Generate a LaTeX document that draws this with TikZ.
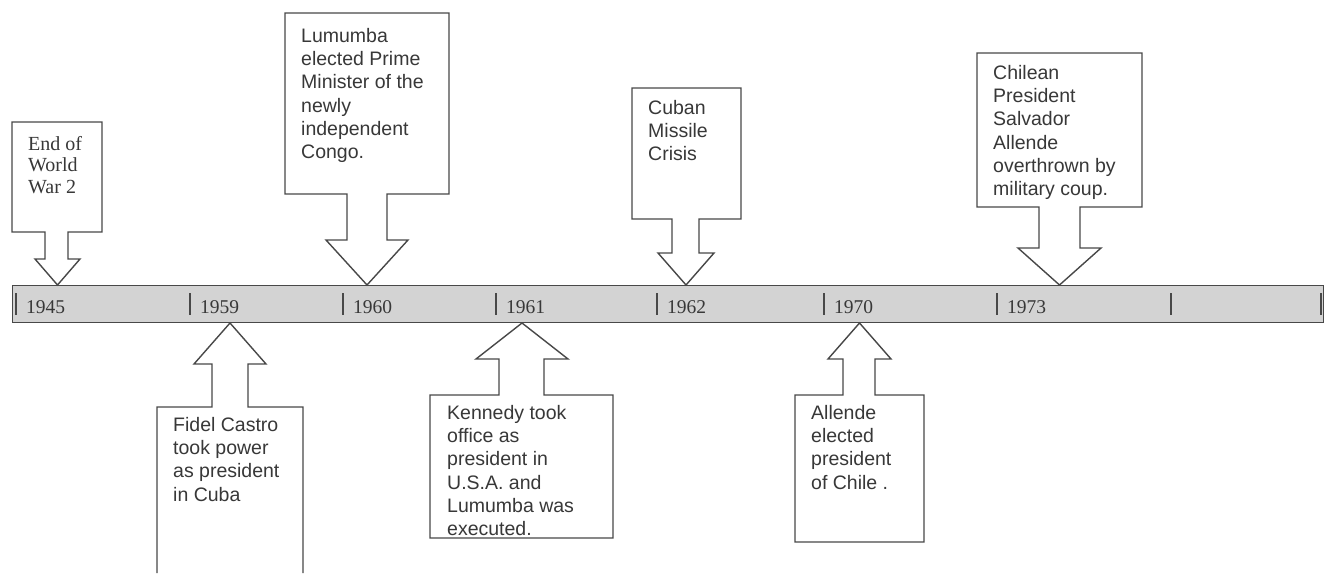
\documentclass[tikz,border=0pt]{standalone}
\usepackage{fontspec}
\setmainfont{Liberation Serif}
\setsansfont{Liberation Sans}
\definecolor{linegray}{HTML}{484848}
\definecolor{bargray}{HTML}{D3D3D3}
\definecolor{textgray}{HTML}{383838}
\begin{document}
\begin{tikzpicture}[x=1pt, y=-1pt,
	every node/.style = {inner sep=0pt, anchor=north west, align=left, text=textgray},
	callout/.style = {draw=linegray, line width=1.4pt, fill=white, line join=miter}]
	\tikzstyle{event}=[font=\sffamily\fontsize{19.5}{23.3}\selectfont]
	\tikzstyle{oldevent}=[font=\fontsize{20}{21.7}\selectfont]
	\tikzstyle{year}=[anchor=base west, font=\fontsize{19.5}{22}\selectfont]
	\useasboundingbox (0,0) rectangle (1324,575);
	% the time bar
	\node (bar) [draw=linegray, line width=1.4pt, fill=bargray, minimum width=1311pt, minimum height=37pt] at (12,285) {};
	\foreach \x in {16,190,343,496,657,824,997,1171,1321}
		\draw [linegray, line width=1.2pt] (\x,293) -- (\x,315);
	\foreach \x/\yr in {16/1945,190/1959,343/1960,496/1961,657/1962,824/1970,997/1973}
		\node [year] (y\yr) at (\x+10,313) {\yr};
	% callouts above the bar
	\draw [callout] (12,122) -- (102,122) -- (102,232) -- (68,232) -- (68,259) -- (80,259) -- (57.5,285) -- (35,259) -- (45,259) -- (45,232) -- (12,232) -- cycle;
	\draw [callout] (285,13) -- (449,13) -- (449,194) -- (387,194) -- (387,240) -- (408,240) -- (367,285) -- (326,240) -- (347,240) -- (347,194) -- (285,194) -- cycle;
	\draw [callout] (632,88) -- (741,88) -- (741,219) -- (699,219) -- (699,253) -- (714,253) -- (686,285) -- (658,253) -- (672,253) -- (672,219) -- (632,219) -- cycle;
	\draw [callout] (977,53) -- (1142,53) -- (1142,207) -- (1080,207) -- (1080,248) -- (1101,248) -- (1059.5,285) -- (1018,248) -- (1039,248) -- (1039,207) -- (977,207) -- cycle;
	% callouts below the bar
	\draw [callout] (157,573) -- (157,407) -- (212,407) -- (212,364) -- (194,364) -- (230,323) -- (266,364) -- (248,364) -- (248,407) -- (303,407) -- (303,573);
	\draw [callout] (430,538) -- (430,395) -- (499,395) -- (499,359) -- (476,359) -- (522,323) -- (568,359) -- (544,359) -- (544,395) -- (613,395) -- (613,538) -- cycle;
	\draw [callout] (795,542) -- (795,395) -- (843,395) -- (843,359) -- (828,359) -- (859.5,323) -- (891,359) -- (875,359) -- (875,395) -- (924,395) -- (924,542) -- cycle;
	% texts
	\node [oldevent] (e1945) at (28,136) {End of\\World\\War 2};
	\node [event] (e1959) at (173,417) {Fidel Castro\\took power\\as president\\in Cuba};
	\node [event] (e1960) at (301,28) {Lumumba\\elected Prime\\Minister of the\\newly\\independent\\Congo.};
	\node [event] (e1961) at (447,405) {Kennedy took\\office as\\president in\\U.S.A. and\\Lumumba was\\executed.};
	\node [event] (e1962) at (648,100) {Cuban\\Missile\\Crisis};
	\node [event] (e1970) at (811,405) {Allende\\elected\\president\\of Chile .};
	\node [event] (e1973) at (993,65) {Chilean\\President\\Salvador\\Allende\\overthrown by\\military coup.};
\end{tikzpicture}
\end{document}
